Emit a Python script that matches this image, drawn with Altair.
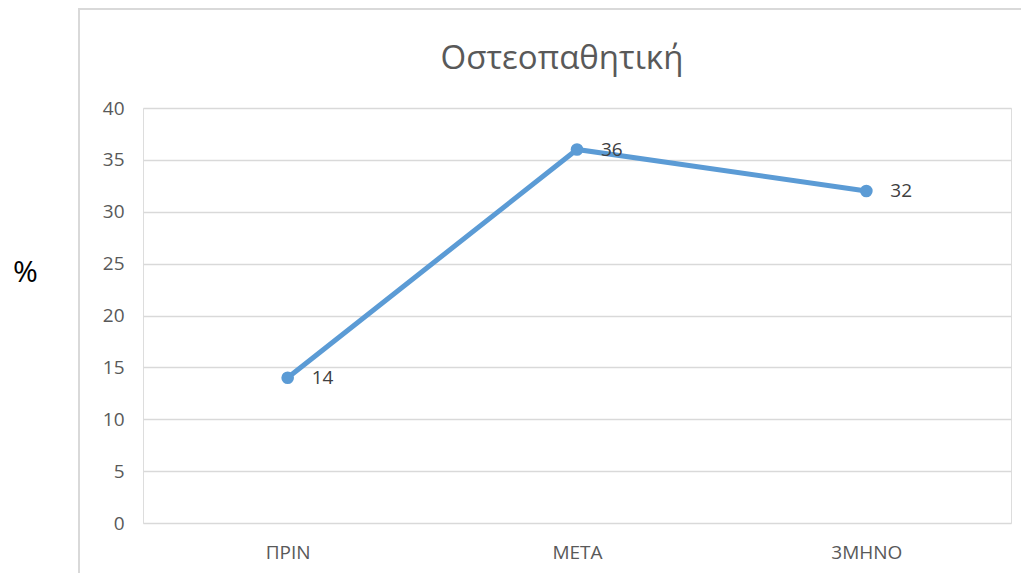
import altair as alt
import pandas as pd

categories = ["ΠΡΙΝ", "ΜΕΤΑ", "3ΜΗΝΟ"]
values = [14, 36, 32]
y_ticks = [0, 5, 10, 15, 20, 25, 30, 35, 40]
title_text = "Οστεοπαθητική"
y_title = "%"

df = pd.DataFrame({"cat": categories, "val": values})
title_df = pd.DataFrame({"t": [title_text]})

FONT = "Open Sans"
BLUE = "#5B9BD5"

x_enc = alt.X("cat:N", sort=categories, title=None,
              scale=alt.Scale(paddingInner=0, paddingOuter=0),
              axis=alt.Axis(labelAngle=0, labelFontSize=19, labelColor="#595959",
                            labelFont=FONT, labelPadding=20, ticks=False, domain=False,
                            grid=False))
y_enc = alt.Y("val:Q", title=y_title,
              scale=alt.Scale(domain=[0, 40], nice=False),
              axis=alt.Axis(values=y_ticks, labelFontSize=19, labelColor="#595959",
                            labelFont=FONT, labelPadding=19, ticks=False, domain=False,
                            gridColor="#d9d9d9", gridWidth=1.5,
                            titleAngle=0, titleX=-118, titleY=164, titleAlign="center",
                            titleBaseline="middle", titleFontSize=30, titleFontWeight="normal",
                            titleColor="#000000", titleFont=FONT))

frame = alt.Chart(title_df).mark_rect(fill=None, stroke="#d9d9d9", strokeWidth=2).encode(
    x=alt.value(-64), x2=alt.value(1000), y=alt.value(-99), y2=alt.value(700)
)

title_mark = alt.Chart(title_df).mark_text(
    align="center", baseline="alphabetic", fontSize=33, color="#595959", font=FONT
).encode(x=alt.value(419), y=alt.value(-39), text="t:N")

base = alt.Chart(df).encode(x=x_enc, y=y_enc)
line = base.mark_line(color=BLUE, strokeWidth=5)
points = base.mark_point(color=BLUE, filled=True, opacity=1, size=160, shape="circle")
labels = base.mark_text(align="left", baseline="middle", dx=24, fontSize=19,
                        color="#404040", font=FONT).encode(text="val:Q")

chart = alt.layer(frame, title_mark, line, points, labels).properties(
    width=868, height=415,
    padding={"left": 135, "top": 100, "right": 10, "bottom": 50},
    autosize=alt.AutoSizeParams(type="none"),
).configure_view(stroke=None).configure(background="white")

chart.save("out.html", embed_options={"renderer": "svg", "actions": False})
